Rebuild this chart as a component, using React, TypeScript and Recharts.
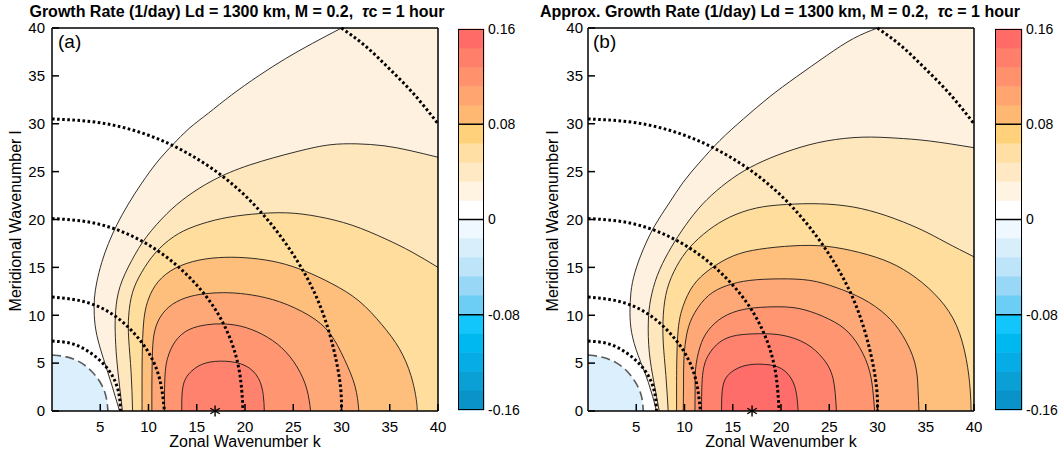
import React from 'react'
import { ComposedChart, Area, Line, Scatter, XAxis, YAxis, BarChart, Bar, ReferenceLine } from 'recharts'

const FONT = '"Liberation Sans", Arial, Helvetica, sans-serif'

type P = [number, number]

const X_TICKS = [5, 10, 15, 20, 25, 30, 35, 40]
const Y_TICKS = [0, 5, 10, 15, 20, 25, 30, 35, 40]

const CB_TICKS = [-0.16, -0.08, 0, 0.08, 0.16]
const CB_LINES = [-0.08, 0, 0.08]
const CB_LEVELS = [-0.16, -0.144, -0.128, -0.112, -0.096, -0.08, -0.064, -0.048, -0.032, -0.016, 0,
  0.016, 0.032, 0.048, 0.064, 0.08, 0.096, 0.112, 0.128, 0.144, 0.16]
const CB_COLORS = [
  '#0a93c8', '#0aa0d6', '#05ace6', '#00b8f0', '#12c6fb', '#6ccdf5', '#98d8f6', '#bde4f8', '#d8effb', '#eef8fe',
  '#ffffff', '#fff3e2', '#ffe9c4', '#ffdfa4', '#ffd17a', '#ffb872', '#ffa56f', '#ff926c', '#ff7f6a', '#ff6c68',
]

// filled regions, outermost first
const FILL_A = ['#fef1df', '#ffe7bd', '#ffdd9c', '#ffbf7c', '#ffa877', '#ff9571', '#ff826f']
const FILL_B = ['#fef1df', '#ffe7bd', '#ffdd9c', '#ffbf7c', '#ffa877', '#ff9571', '#ff826f', '#ff6d6b']
const ZERO_FILL = '#dbf0fc'

// (a) contour lines
const A_C1: P[] = [[7.0, 0], [6.2, 2.7], [5.35, 5.4], [4.65, 7.9], [4.38, 10.0], [4.4, 11.8], [4.65, 13.5], [5.15, 15.5],
  [5.85, 17.5], [6.75, 19.5], [7.9, 21.6], [9.3, 23.8], [10.9, 26.0], [12.5, 27.8], [14.2, 29.5], [16.2, 31.1],
  [18.6, 33.0], [21.4, 35.0], [24.2, 36.8], [27.0, 38.4], [30.0, 40.0]]
const A_C2: P[] = [[7.3, 0], [7.0, 2.6], [6.7, 5.5], [6.55, 8.3], [6.6, 10.5], [7.05, 13.0], [8.25, 15.7], [9.8, 18.2],
  [11.9, 20.6], [14.0, 22.4], [16.7, 24.1], [20.5, 25.7], [25.4, 27.1], [28.8, 27.8], [31.6, 27.9], [34.4, 27.7],
  [37.1, 27.2], [40.0, 26.5]]
const A_C3: P[] = [[8.35, 0], [8.2, 4.0], [7.95, 7.5], [7.95, 10.0], [8.35, 12.4], [9.3, 14.5], [10.7, 16.5], [12.6, 18.2],
  [14.8, 19.3], [17.6, 20.1], [20.7, 20.55], [24.2, 20.7], [27.6, 20.3], [31.1, 19.4], [34.5, 18.0], [37.3, 16.6],
  [40.0, 15.0]]
const A_C4: P[] = [[9.33, 0], [9.33, 3.0], [9.35, 5.8], [9.5, 9.3], [10.0, 11.7], [11.0, 13.5], [12.75, 14.9], [15.2, 15.75],
  [17.95, 16.05], [20.7, 15.95], [23.5, 15.5], [26.25, 14.6], [29.0, 13.3], [31.8, 11.5], [34.2, 9.0], [36.0, 6.5],
  [37.2, 3.7], [37.75, 1.2], [37.85, 0]]
const A_C5: P[] = [[10.35, 0], [10.35, 2.6], [10.38, 5.0], [10.5, 7.5], [11.0, 9.4], [12.1, 10.85], [13.8, 11.8],
  [15.9, 12.25], [18.3, 12.35], [20.8, 12.1], [23.6, 11.4], [26.6, 10.0], [28.8, 8.1], [30.3, 5.4], [31.4, 2.6], [31.8, 0]]
const A_C6: P[] = [[11.65, 0], [11.7, 3.5], [12.0, 5.6], [12.8, 7.3], [14.2, 8.5], [16.0, 9.0], [17.6, 9.1], [19.6, 8.85],
  [21.8, 8.0], [23.8, 6.6], [25.4, 4.6], [26.4, 2.3], [26.8, 0]]
const A_C7: P[] = [[13.45, 0], [13.6, 2.7], [14.5, 4.2], [15.9, 5.0], [17.9, 5.2], [20.0, 4.75], [21.4, 3.4], [21.9, 1.6],
  [22.0, 0]]
const A_CORNER: P[] = [[29.8, 40], [40, 40]]
const A_ZERO: P[] = [[0, 5.85], [1.5, 5.65], [2.9, 5.1], [4.1, 4.15], [5.05, 2.9], [5.6, 1.5], [5.8, 0]]
const A_STAR: P[] = [[16.9, 0]]

// (b) contour lines
const B_C1: P[] = [[7.1, 0], [6.25, 3.0], [5.2, 5.8], [4.52, 8.2], [4.35, 10.3], [4.45, 12.4], [4.87, 14.5], [5.73, 16.9],
  [6.94, 19.4], [8.34, 21.6], [9.87, 23.9], [11.6, 26.0], [13.66, 28.25], [16.1, 30.5], [18.8, 32.8], [21.6, 34.9],
  [24.7, 37.1], [27.5, 38.9], [30.0, 40.0]]
const B_C2: P[] = [[7.38, 0], [6.83, 3.0], [6.35, 6.15], [6.25, 9.3], [6.5, 11.7], [7.18, 14.15], [8.32, 16.55], [9.7, 18.8],
  [11.42, 21.1], [13.32, 23.0], [15.56, 24.7], [18.15, 26.1], [21.25, 27.3], [24.7, 28.2], [28.5, 28.6], [31.9, 28.5],
  [35.4, 28.2], [40.0, 27.5]]
const B_C3: P[] = [[8.31, 0], [8.07, 3.7], [7.8, 7.1], [7.8, 10.0], [8.2, 12.7], [9.18, 15.1], [10.56, 17.1], [12.46, 18.86],
  [14.7, 20.25], [17.46, 21.2], [20.56, 21.57], [24.0, 21.64], [27.5, 21.3], [30.9, 20.4], [34.4, 19.0], [37.1, 17.6],
  [40.0, 16.1]]
const B_C4: P[] = [[9.18, 0], [9.18, 2.5], [9.2, 5.1], [9.35, 8.55], [9.87, 11.0], [10.9, 13.1], [12.63, 14.8], [15.05, 16.2],
  [17.8, 16.9], [21.25, 17.25], [24.7, 17.2], [28.15, 16.55], [31.3, 15.5], [34.0, 13.9], [36.4, 11.7], [38.2, 8.9],
  [39.2, 5.4], [39.6, 2.3], [39.7, 0]]
const B_C5: P[] = [[9.87, 0], [9.9, 2.7], [9.94, 5.47], [10.28, 8.25], [11.08, 10.3], [12.5, 12.07], [14.4, 13.1],
  [16.77, 13.64], [19.87, 13.8], [22.98, 13.64], [25.7, 12.9], [28.5, 11.7], [30.9, 10.0], [32.6, 7.9], [33.85, 5.1],
  [34.2, 2.3], [34.3, 0]]
const B_C6: P[] = [[11.08, 0], [11.1, 2.2], [11.15, 4.4], [11.6, 6.68], [12.46, 8.42], [14.0, 9.81], [16.08, 10.6],
  [18.5, 10.86], [21.25, 10.8], [23.67, 10.16], [26.1, 8.95], [27.8, 7.2], [29.0, 4.77], [29.5, 2.33], [29.7, 0]]
const B_C7: P[] = [[11.77, 0], [11.87, 3.7], [12.46, 5.8], [13.66, 7.2], [15.4, 7.9], [17.8, 8.07], [20.2, 7.9], [22.6, 7.03],
  [24.36, 5.47], [25.4, 3.37], [25.74, 0]]
const B_C8: P[] = [[13.84, 0], [14.0, 2.68], [14.87, 4.07], [16.4, 4.77], [18.3, 4.87], [20.05, 4.42], [21.25, 3.03],
  [21.67, 1.29], [21.77, 0]]
const B_CORNER: P[] = [[29.8, 40], [40, 40]]
const B_ZERO: P[] = [[0, 5.85], [1.5, 5.62], [2.9, 5.05], [4.1, 4.1], [5.0, 2.85], [5.55, 1.5], [5.73, 0]]
const B_STAR: P[] = [[17.0, 0]]

// thick dotted arcs, same in both panels
const DOT_7: P[] = [[0, 7.3], [2.0, 7.05], [3.8, 6.2], [5.3, 4.95], [6.4, 3.4], [6.95, 1.7], [7.1, 0]]
const DOT_12: P[] = [[0, 11.9], [3.0, 11.5], [5.8, 10.4], [8.2, 8.45], [10.1, 5.95], [11.2, 3.15], [11.65, 0]]
const DOT_20: P[] = [[0, 20.1], [4.0, 19.7], [7.8, 18.5], [11.3, 16.5], [14.3, 13.9], [16.8, 10.8], [18.6, 7.2], [19.5, 3.6],
  [19.8, 0]]
const DOT_30: P[] = [[0, 30.5], [5.0, 30.1], [10.0, 28.8], [14.6, 26.6], [18.8, 23.6], [22.4, 19.9], [25.4, 15.7],
  [27.7, 11.2], [29.2, 6.4], [29.9, 2.5], [30.0, 0]]
const DOT_50: P[] = [[30.0, 40.0], [32.5, 38.1], [35.0, 35.7], [37.5, 33.1], [40.0, 30.0]]
const DOTS = [DOT_7, DOT_12, DOT_20, DOT_30, DOT_50]

const pts = (a: P[]) => a.map(([x, y]) => ({ x, y }))

function Star(props: any) {
  const { cx, cy } = props
  const r = 5.5
  const dx = r * 0.87
  return (
    <g stroke="#000" strokeWidth={1.4}>
      <line x1={cx} y1={cy - r} x2={cx} y2={cy + r} />
      <line x1={cx - dx} y1={cy - r / 2} x2={cx + dx} y2={cy + r / 2} />
      <line x1={cx - dx} y1={cy + r / 2} x2={cx + dx} y2={cy - r / 2} />
    </g>
  )
}

const tickStyle = { fill: '#000', fontSize: 15, fontFamily: FONT }

function Panel({ left, contours, fills, corner, zero, star, labelGap }: {
  left: number; contours: P[][]; fills: string[]; corner: P[]; zero: P[]; star: P[]; labelGap: number
}) {
  return (
    <div style={{ position: 'absolute', left, top: 0 }}>
      <ComposedChart width={460} height={453} margin={{ top: 18, right: 12, bottom: 12, left: 12 }}>
        <XAxis xAxisId="b" type="number" dataKey="x" domain={[0, 40]} ticks={X_TICKS} orientation="bottom" height={30}
          tickSize={-7} tickMargin={17} tick={tickStyle} stroke="#000" strokeWidth={1.5} interval={0} />
        <XAxis xAxisId="t" type="number" dataKey="x" domain={[0, 40]} ticks={X_TICKS} orientation="top" height={10}
          tickSize={-7} tick={false} stroke="#000" strokeWidth={1.5} interval={0} />
        <YAxis yAxisId="l" type="number" dataKey="y" domain={[0, 40]} ticks={Y_TICKS} orientation="left" width={40}
          tickSize={-7} tickMargin={7 + labelGap} tick={tickStyle} stroke="#000" strokeWidth={1.5} interval={0} />
        <YAxis yAxisId="r" type="number" dataKey="y" domain={[0, 40]} ticks={Y_TICKS} orientation="right" width={10}
          tickSize={-7} tick={false} stroke="#000" strokeWidth={1.5} interval={0} />

        <Area xAxisId="b" yAxisId="l" data={pts(corner)} dataKey="y" type="linear" baseValue={0}
          fill={fills[0]} fillOpacity={1} stroke="none" dot={false} activeDot={false} isAnimationActive={false} />
        {contours.map((c, i) => (
          <Area key={`c${i}`} xAxisId="b" yAxisId="l" data={pts(c)} dataKey="y" type="natural" baseValue={0}
            fill={fills[i]} fillOpacity={1} stroke="#1a1a1a" strokeWidth={0.9} dot={false} activeDot={false}
            isAnimationActive={false} />
        ))}
        <Area xAxisId="b" yAxisId="l" data={pts(zero)} dataKey="y" type="natural" baseValue={0}
          fill={ZERO_FILL} fillOpacity={1} stroke="#5a5a5a" strokeWidth={1.6} strokeDasharray="9 4.5"
          dot={false} activeDot={false} isAnimationActive={false} />
        {DOTS.map((d, i) => (
          <Line key={`d${i}`} xAxisId="b" yAxisId="l" data={pts(d)} dataKey="y" type="natural" stroke="#000"
            strokeWidth={3} strokeDasharray="2.6 2.5" dot={false} activeDot={false} isAnimationActive={false} />
        ))}
        <Scatter xAxisId="b" yAxisId="l" data={pts(star)} dataKey="y" shape={Star} isAnimationActive={false} />
      </ComposedChart>
    </div>
  )
}

function ColorBar({ left, width }: { left: number; width: number }) {
  const row: Record<string, number | string> = { name: 'cb' }
  const bands = CB_COLORS.map((color, i) => ({ key: `b${i}`, color, lo: CB_LEVELS[i], hi: CB_LEVELS[i + 1] }))
  bands.forEach(b => { row[b.key] = b.lo >= 0 ? b.hi - b.lo : b.lo - b.hi })
  const pos = bands.filter(b => b.lo >= 0)
  const neg = bands.filter(b => b.lo < 0).reverse()
  return (
    <div style={{ position: 'absolute', left, top: 0 }}>
      <BarChart width={width + 50} height={453} data={[row]} margin={{ top: 29, right: 0, bottom: 43, left: 0 }}
        barCategoryGap={0} stackOffset="sign">
        <XAxis dataKey="name" hide />
        <YAxis orientation="right" width={50} type="number" domain={[-0.16, 0.16]} ticks={CB_TICKS}
          tickLine={false} axisLine={false} tickSize={0} tickMargin={4}
          tick={{ fill: '#000', fontSize: 14, fontFamily: FONT }} tickFormatter={v => String(v)} interval={0} />
        {[...pos, ...neg].map(b => (
          <Bar key={b.key} dataKey={b.key} stackId="cb" fill={b.color} stroke={b.color} strokeWidth={0.6}
            isAnimationActive={false} />
        ))}
        {CB_LINES.map(v => <ReferenceLine key={v} y={v} stroke="#000" strokeWidth={1.5} />)}
      </BarChart>
      <div style={{ position: 'absolute', left: 0, top: 29, width, height: 381, border: '1.5px solid #000', boxSizing: 'border-box' }} />
    </div>
  )
}

const txt: React.CSSProperties = { position: 'absolute', fontFamily: FONT, color: '#000', whiteSpace: 'pre' }

export default function App() {
  return (
    <div style={{ position: 'absolute', left: 0, top: 0, width: 1060, height: 453, background: '#fff', overflow: 'hidden' }}>
      <Panel left={0} contours={[A_C1, A_C2, A_C3, A_C4, A_C5, A_C6, A_C7]} fills={FILL_A} corner={A_CORNER}
        zero={A_ZERO} star={A_STAR} labelGap={7} />
      <Panel left={536} contours={[B_C1, B_C2, B_C3, B_C4, B_C5, B_C6, B_C7, B_C8]} fills={FILL_B} corner={B_CORNER}
        zero={B_ZERO} star={B_STAR} labelGap={5} />
      <ColorBar left={458} width={26} />
      <ColorBar left={995} width={27} />

      <div style={{ ...txt, left: 237, top: 6, transform: 'translateX(-50%)', fontSize: 16, lineHeight: '12px', fontWeight: 'bold' }}>
        Growth Rate (1/day) Ld = 1300 km, M = 0.2,  <i>τ</i>c = 1 hour
      </div>
      <div style={{ ...txt, left: 780, top: 6, transform: 'translateX(-50%)', fontSize: 16, lineHeight: '12px', fontWeight: 'bold' }}>
        Approx. Growth Rate (1/day) Ld = 1300 km, M = 0.2,  <i>τ</i>c = 1 hour
      </div>

      <div style={{ ...txt, left: 58, top: 31, fontSize: 19, lineHeight: '22px' }}>(a)</div>
      <div style={{ ...txt, left: 593, top: 31, fontSize: 19, lineHeight: '22px' }}>(b)</div>

      <div style={{ ...txt, left: 245, top: 433, transform: 'translateX(-50%)', fontSize: 16, lineHeight: '18px' }}>Zonal Wavenumber k</div>
      <div style={{ ...txt, left: 781, top: 433, transform: 'translateX(-50%)', fontSize: 16, lineHeight: '18px' }}>Zonal Wavenumber k</div>

      <div style={{ ...txt, left: 16, top: 221, transform: 'translate(-50%, -50%) rotate(-90deg)', fontSize: 16, lineHeight: '18px' }}>Meridional Wavenumber l</div>
      <div style={{ ...txt, left: 553, top: 221, transform: 'translate(-50%, -50%) rotate(-90deg)', fontSize: 16, lineHeight: '18px' }}>Meridional Wavenumber l</div>
    </div>
  )
}
